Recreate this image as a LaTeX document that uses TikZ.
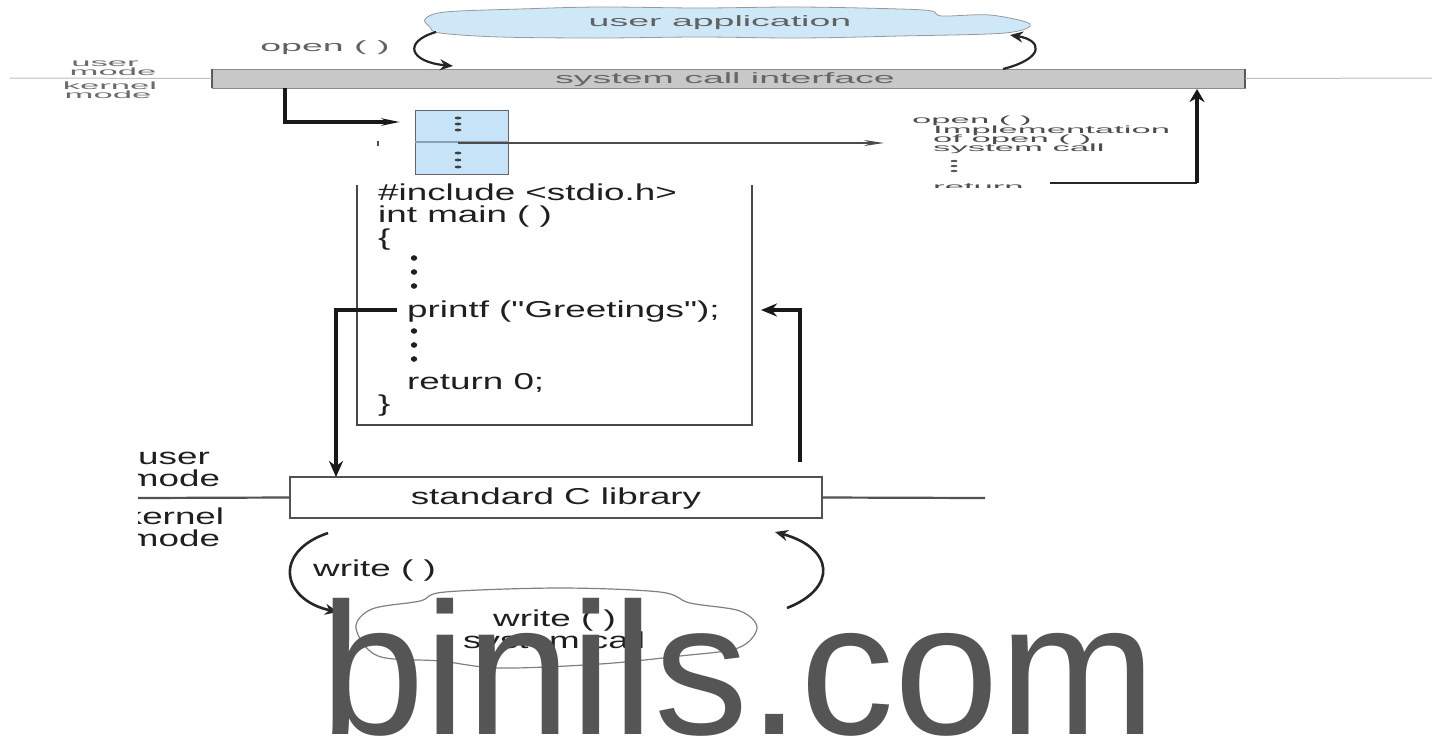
\documentclass[tikz,border=0pt]{standalone}
\usepackage{fontspec}
\setmainfont{Liberation Sans}
\newfontfamily\codef[FakeStretch=1.6]{Liberation Sans}
\newfontfamily\topf[FakeStretch=2.5]{Liberation Sans}
\newfontfamily\smallf[FakeStretch=3.3]{Liberation Sans}
\usetikzlibrary{arrows.meta,calc}
\definecolor{wmgray}{HTML}{555555}
\definecolor{cloudblue}{HTML}{CFE8F8}
\definecolor{tabblue}{HTML}{C6E3F7}
\definecolor{bargray}{HTML}{C8C8C8}
\begin{document}
\begin{tikzpicture}[x=1pt,y=-1pt,
  codetxt/.style={font=\codef\fontsize{23}{23}\selectfont, inner sep=0pt, anchor=base west, text=black!88},
  toptxt/.style={font=\topf\fontsize{15}{15}\selectfont, inner sep=0pt, anchor=base, text=black!62},
  smalltxt/.style={font=\smallf\fontsize{10.5}{10.5}\selectfont, inner sep=0pt, anchor=base west, text=black!58},
  thk/.style={line width=3.4pt, draw=black!90},
  arc/.style={line width=2.6pt, draw=black!85, -{Stealth[length=13pt,width=11pt]}},
  grayline/.style={line width=2.2pt, draw=black!68},
  thinline/.style={line width=1pt, draw=black!25}
]
\useasboundingbox (0,0) rectangle (1432,740);

% ---------- top part ----------
\draw[draw=black!40, fill=cloudblue, line width=0.8pt] plot[smooth cycle, tension=0.55] coordinates {
 (425,19) (445,12) (520,9) (600,7) (700,8) (800,7) (900,9) (932,11) (942,16) (990,15) (1030,24)
 (1005,33) (900,36) (800,38) (700,37) (600,38) (500,37) (440,33) (430,27)};
\node[toptxt] (ua) at (720,26) {user application};

\node[draw=black!45, fill=bargray, line width=0.8pt, minimum width=1033pt, minimum height=19pt, inner sep=0pt] (sci) at (728.5,78.5) {};
\draw[line width=2pt, draw=black!65] (sci.north west) -- (sci.south west);
\draw[line width=2pt, draw=black!65] (sci.north east) -- (sci.south east);
\node[toptxt, text=black!60] (scit) at (725,83) {system call interface};
\coordinate (lfar) at (10,78);
\coordinate (rfar) at (1432,78);
\draw[thinline] (lfar) -- (sci.west);
\draw[thinline] (sci.east) -- (rfar);

\node[toptxt] (open1) at (325,51) {open ( )};
\coordinate (a1s) at (436,32);
\coordinate (a1e) at (453,66);
\draw[arc, line width=2.2pt] (a1s) .. controls (402,42) and (410,62) .. (a1e);
\coordinate (a2s) at (1003,69);
\coordinate (a2e) at (1010,35);
\draw[arc, line width=2.2pt] (a2s) .. controls (1046,58) and (1042,40) .. (a2e);

\node[smalltxt, anchor=base] (um1) at (105,66) {user};
\node[smalltxt, anchor=base] (um2) at (113,75) {mode};
\node[smalltxt, anchor=base] (km1) at (110,89) {kernel};
\node[smalltxt, anchor=base] (km2) at (108,98) {mode};

% blue table
\node[draw=black!60, fill=tabblue, line width=1pt, minimum width=93pt, minimum height=64pt, inner sep=0pt] (tab) at (461.5,142) {};
\draw[draw=black!30!tabblue, line width=1.5pt] (tab.west) -- (tab.east);
\foreach \yy in {118,124,130,153,160,167}{
  \fill[black!75] (458,\yy) ellipse (3.5pt and 1.4pt);
}
\fill[black!70] (376.5,141) rectangle (378.5,146);

\coordinate (sciL) at (285,88);
\coordinate (tabin) at (400,122);
\draw[thk, -{Stealth[length=18pt,width=7pt]}] (sciL) |- (tabin);

\coordinate (tabmid) at (458,143);
\coordinate (impl) at (884,143);
\draw[line width=1.4pt, draw=black!70, -{Stealth[length=20pt,width=6pt]}] (tabmid) -- (impl);

% open() implementation text
\begin{scope}
\clip (880,100) rectangle (1200,187);
\node[smalltxt, text=black!70] (o2) at (912,123) {open ( )};
\node[smalltxt, text=black!70] (im) at (933,133) {Implementation};
\node[smalltxt, text=black!70] (oo) at (933,142) {of open ( )};
\node[smalltxt, text=black!70] (sc) at (933,151) {system call};
\foreach \yy in {161,166,171}{\fill[black!65] (954,\yy) ellipse (3.5pt and 1.1pt);}
\node[smalltxt, text=black!70] (rt) at (933,190) {return};
\end{scope}
\coordinate (retS) at (1050,183);
\coordinate (retC) at (1197,183);
\coordinate (sciR) at (1197,89);
\draw[line width=2.2pt, draw=black!85] (retS) -- (retC);
\draw[thk, -{Stealth[length=13pt,width=15pt]}] (retC) -- (sciR);

% ---------- code part ----------
\node[minimum width=395pt, minimum height=239pt, inner sep=0pt] (code) at (554.5,305) {};
\draw[grayline, draw=black!72] (code.north west) -- (code.south west) -- (code.south east) -- (code.north east);
\node[codetxt] (l1) at (378,200) {\#include <stdio.h>};
\node[codetxt] (l2) at (378,222) {int main ( )};
\node[codetxt] (l3) at (378,245) {\{};
\foreach \yy in {258,272,286,331,345,359}{
  \fill[black!88] (414,\yy) ellipse (3.2pt and 2.8pt);
}
\node[codetxt] (pf) at (407,317) {printf ("Greetings");};
\node[codetxt] (r0) at (407,389) {return 0;};
\node[codetxt] (l9) at (378,411) {\}};

% ---------- standard C library ----------
\node[draw=black!68, line width=2.2pt, minimum width=532pt, minimum height=41pt, inner sep=0pt] (lib) at (556,497.5) {};
\node[codetxt, anchor=base] (libt) at (556,504) {standard C library};
\coordinate (ll) at (138,498);
\coordinate (lr) at (985,498);
\draw[grayline] (ll) -- (lib.west);
\draw[grayline] (lib.east) -- (lr);

\coordinate (pfL) at (397,310);
\coordinate (libin) at (336,477);
\draw[thk, -{Stealth[length=16pt,width=14pt]}] (pfL) -| (libin);
\coordinate (libout) at (800,462);
\coordinate (pfR) at (761,310);
\draw[thk, -{Stealth[length=16pt,width=13pt]}] (libout) |- (pfR);

\begin{scope}
\clip (138,440) rectangle (300,560);
\node[codetxt, anchor=base] (u2) at (174,464) {user};
\node[codetxt, anchor=base] (m2) at (174,486) {mode};
\node[codetxt, anchor=base] (k2) at (174,524) {kernel};
\node[codetxt, anchor=base] (m3) at (174,546) {mode};
\end{scope}

% write arcs
\coordinate (w1s) at (328,533);
\coordinate (w1e) at (338,612);
\draw[arc] (w1s) .. controls (272,552) and (282,600) .. (w1e);
\node[codetxt] (wr) at (313,576) {write ( )};
\coordinate (w2s) at (787,608);
\coordinate (w2e) at (775,532);
\draw[arc] (w2s) .. controls (838,588) and (834,548) .. (w2e);

% bottom cloud
\draw[draw=black!50, fill=white, line width=1.2pt] plot[smooth cycle, tension=0.55] coordinates {
 (356,628) (372,609) (420,601) (445,592) (560,588) (660,592) (690,603) (740,611) (757,628)
 (738,648) (680,656) (600,664) (500,668) (440,661) (378,656)};
\node[codetxt] (wsc1) at (493,626) {write ( )};
\node[codetxt] (wsc2) at (463,648) {system call};

% watermark
\node[font=\fontsize{188}{188}\selectfont, text=wmgray, inner sep=0pt, anchor=base west] (wm) at (320,734) {binils.com};
\end{tikzpicture}
\end{document}
